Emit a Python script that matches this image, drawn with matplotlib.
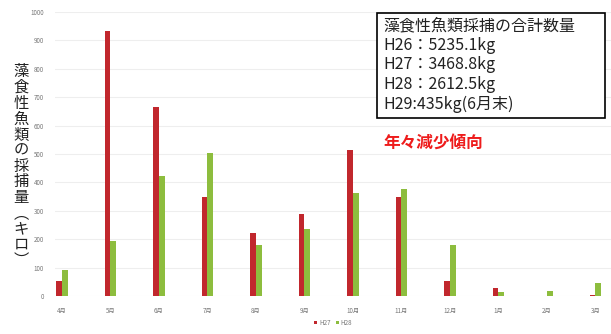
import numpy as np
import matplotlib
matplotlib.use("Agg")
import matplotlib.pyplot as plt
from matplotlib.patches import Rectangle

plt.rcParams['font.family'] = ['Noto Sans CJK JP', 'DejaVu Sans']

# データ
months = ['4月', '5月', '6月', '7月', '8月', '9月', '10月', '11月', '12月', '1月', '2月', '3月']
h27 = [53, 933, 665, 350, 222, 289, 514, 348, 54, 29, 0, 3]
h28 = [92, 193, 424, 503, 180, 236, 362, 376, 180, 15, 17, 45]
series_names = ['H27', 'H28']
yticks = list(range(0, 1001, 100))

box_lines = ['藻食性魚類採捕の合計数量',
             'H26：5235.1kg',
             'H27：3468.8kg',
             'H28：2612.5kg',
             'H29:435kg(6月末)']
ylabel = '藻食性魚類の採捕量︵キロ︶'

fig = plt.figure(figsize=(6.11, 3.34), dpi=100)
ax = fig.add_axes([55 / 611, 38 / 334, 556 / 611, 284 / 334])

x = np.arange(len(months))
w = 0.12
ax.bar(x - w / 2, h27, w, color='#c1272d', label=series_names[0], zorder=3)
ax.bar(x + w / 2, h28, w, color='#8dbd3e', label=series_names[1], zorder=3)

ax.set_xlim(-0.144, 11.32)
ax.set_ylim(0, 1000)
ax.set_yticks(yticks)
ax.set_xticks(x)
ax.set_xticklabels(months)
ax.tick_params(axis='both', labelsize=4.5, colors='#777777', length=0, pad=8)
ax.grid(axis='y', color='#eeeeee', linewidth=0.8, zorder=0)
for s in ax.spines.values():
    s.set_visible(False)

# 縦書きのY軸ラベル
fig.text(21 / 611, 1 - 166 / 334, '\n'.join(ylabel), fontsize=11,
         ha='center', va='center', linespacing=0.9, color='#222222')

# 合計数量の枠
fig.patches.append(Rectangle((377 / 611, 1 - 118 / 334), 228 / 611, 105 / 334,
                             transform=fig.transFigure, facecolor='white',
                             edgecolor='black', linewidth=1.2, zorder=5))
fig.text(383 / 611, 1 - 17 / 334, '\n'.join(box_lines), fontsize=11.5,
         ha='left', va='top', linespacing=1.2, color='#222222', zorder=6)

fig.text(383 / 611, 1 - 143 / 334, '年々減少傾向', fontsize=12,
         fontweight='bold', color='#ee1c1c', ha='left', va='center')

ax.legend(loc='upper center', bbox_to_anchor=(0.5, -0.06), ncol=2,
          frameon=False, fontsize=4.5, handlelength=0.5, handleheight=0.5,
          columnspacing=0.8, handletextpad=0.3, labelcolor='#777777')

fig.savefig('out.png', dpi=100)
